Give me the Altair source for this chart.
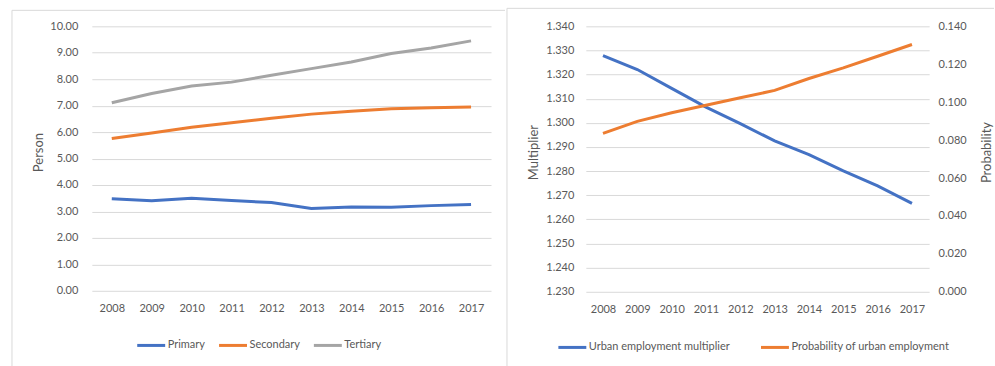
import altair as alt
import pandas as pd

years = [str(y) for y in range(2008, 2018)]
primary = [3.48, 3.40, 3.50, 3.41, 3.34, 3.11, 3.17, 3.16, 3.22, 3.26]
secondary = [5.76, 5.97, 6.18, 6.35, 6.52, 6.68, 6.79, 6.88, 6.92, 6.95]
tertiary = [7.11, 7.46, 7.74, 7.89, 8.15, 8.40, 8.65, 8.97, 9.18, 9.45]
multiplier = [1.3279, 1.3221, 1.3143, 1.3065, 1.2997, 1.2925, 1.2868, 1.2801, 1.2739, 1.2666]
probability = [0.0835, 0.0899, 0.0944, 0.0984, 0.1023, 0.1062, 0.1125, 0.1181, 0.1242, 0.1304]

left_series = ["Primary", "Secondary", "Tertiary"]
left_colors = ["#4472C4", "#ED7D31", "#A5A5A5"]
right_series = ["Urban employment multiplier", "Probability of urban employment"]
right_colors = ["#4472C4", "#ED7D31"]

left_ticks = [0, 1, 2, 3, 4, 5, 6, 7, 8, 9, 10]
mult_ticks = [1.23, 1.24, 1.25, 1.26, 1.27, 1.28, 1.29, 1.30, 1.31, 1.32, 1.33, 1.34]
prob_ticks = [0.0, 0.02, 0.04, 0.06, 0.08, 0.10, 0.12, 0.14]

FONT = "Lato"
GREY = "#595959"
GRID = "#D9D9D9"
BORDER = "#D9D9D9"

left_df = pd.DataFrame({
    "Year": years * 3,
    "Series": [s for s in left_series for _ in years],
    "Value": primary + secondary + tertiary,
})
right_df = pd.DataFrame({"Year": years, "Multiplier": multiplier, "Probability": probability})
dummy = pd.DataFrame({"d": [0]})


def border(x, y_top, x_right, y_bottom):
    top = alt.Chart(dummy).mark_rule(color=BORDER, strokeWidth=1).encode(
        x=alt.value(x), x2=alt.value(x_right), y=alt.value(y_top))
    side = alt.Chart(dummy).mark_rule(color=BORDER, strokeWidth=1).encode(
        x=alt.value(x), y=alt.value(y_top), y2=alt.value(y_bottom))
    return [top, side]


x_axis = alt.Axis(title=None, labelAngle=0, labelPadding=12, labelFont=FONT, labelFontSize=11,
                  labelColor=GREY, domain=False, ticks=False, grid=False)


def legend(lx, ly, colpad):
    return alt.Legend(title=None, orient="none", legendX=lx, legendY=ly,
                      direction="horizontal", symbolType="stroke",
                      symbolSize=784, symbolStrokeWidth=3, labelOffset=1,
                      columnPadding=colpad, padding=0,
                      labelFont=FONT, labelFontSize=11, labelColor=GREY)


def y_axis(title, tx, values, fmt, orient, pad, grid):
    kw = dict(orient=orient, values=values, format=fmt, title=title,
              titleFont=FONT, titleFontSize=13, titleFontWeight="normal",
              titleColor=GREY, titleAngle=270, titleX=tx, titleY=126,
              titleBaseline="middle", titleAlign="center",
              labelFont=FONT, labelFontSize=11, labelColor=GREY, labelPadding=pad,
              domain=False, ticks=False)
    if grid:
        kw.update(gridColor=GRID, gridWidth=1)
    else:
        kw.update(grid=False)
    return alt.Axis(**kw)


# ---------- left panel ----------
LW, LH = 400, 265
left_lines = alt.Chart(left_df).mark_line(strokeWidth=3).encode(
    x=alt.X("Year:O", axis=x_axis),
    y=alt.Y("Value:Q", scale=alt.Scale(domain=[0, 10]),
            axis=y_axis("Person", -53, left_ticks, ".2f", "left", 14, True)),
    color=alt.Color("Series:N", scale=alt.Scale(domain=left_series, range=left_colors),
                    legend=legend(44, 304, 7)),
)
left = alt.layer(*border(-80, -16, 414, 341), left_lines).properties(width=LW, height=LH)

# ---------- right panel ----------
RW, RH = 344, 266
base = alt.Chart(right_df).encode(x=alt.X("Year:O", axis=x_axis))
color_enc = alt.Color("Series:N", scale=alt.Scale(domain=right_series, range=right_colors),
                      legend=legend(-29, 306, 24))
mult_line = base.transform_calculate(Series="'Urban employment multiplier'").mark_line(strokeWidth=3).encode(
    y=alt.Y("Multiplier:Q", scale=alt.Scale(domain=[1.23, 1.34], zero=False),
            axis=y_axis("Multiplier", -52, mult_ticks, ".3f", "left", 12, True)),
    color=color_enc,
)
prob_line = base.transform_calculate(Series="'Probability of urban employment'").mark_line(strokeWidth=3).encode(
    y=alt.Y("Probability:Q", scale=alt.Scale(domain=[0, 0.14]),
            axis=y_axis("Probability", 57, prob_ticks, ".3f", "right", 9, False)),
    color=color_enc,
)
right = alt.layer(*border(-79, -18, 409, 341), mult_line, prob_line).resolve_scale(
    y="independent").properties(width=RW, height=RH)

chart = alt.hconcat(left, right, spacing=95, bounds="flush").resolve_scale(
    color="independent"
).resolve_legend(color="independent").properties(
    padding={"left": 11, "top": 7, "right": 0, "bottom": 0},
    background="white",
).configure_view(stroke=None)

chart.save("out.html", embed_options={"renderer": "svg", "actions": False})
